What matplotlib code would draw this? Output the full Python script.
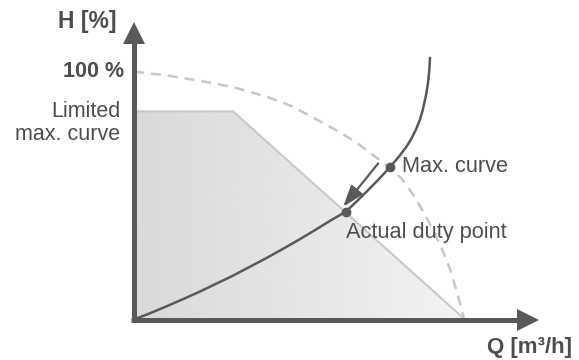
import matplotlib.pyplot as plt
import numpy as np
from matplotlib.patches import Polygon

plt.rcParams['font.family'] = ['Liberation Sans', 'DejaVu Sans']

# pump max curve (100 % speed)
max_q = [0, 10, 20, 30, 40, 48, 57.3, 62.5, 67.6, 73.6, 77.5, 81, 84.8, 88.3,
         91, 93.5, 95.6, 97.2, 98.5, 99.4, 100]
max_h = [100, 98.5, 96.3, 93.8, 90, 86, 79.3, 75.5, 71.2, 65.2, 61.3, 57, 50, 42,
         35, 28, 21, 14, 8, 3.5, 0]

# limited max. curve (flat top, then falling to zero)
lim_q = [0, 30, 100.3]
lim_h = [84, 84, 0]

# system curve through the origin
sys_q = [0, 5, 10, 15, 20, 25, 30, 35, 40, 45, 50, 55, 60, 64.2, 67.9, 71.9,
         74.8, 77.6, 80.2, 82.5, 84.0, 85.4, 86.6, 87.5, 88.5, 89.1, 89.5, 89.7]
sys_h = [0, 2.6, 5.4, 8.3, 11.3, 14.5, 17.7, 21.2, 24.7, 28.4, 32.2, 36.2, 40.3,
         43.5, 48.2, 53.5, 57.5, 61.5, 65.6, 69.6, 72.8, 76.5, 80.5, 84.5, 90.6,
         95.5, 100.7, 105.5]

duty_point = (64.2, 43.5)
max_point = (77.5, 61.6)

dark = '#595959'
light = '#c8c8c8'
txt = '#4d4d4d'

fig = plt.figure(figsize=(5.79, 3.6), dpi=100)
ax = fig.add_axes([0, 0, 1, 1])
ax.set_xlim(-40.6, 134.85)
ax.set_ylim(-16.34, 128.93)
ax.axis('off')

# gradient fill under the limited curve
poly = Polygon(list(zip(lim_q, lim_h)) + [(lim_q[-1], 0), (0, 0)], closed=True,
               facecolor='none', edgecolor='none')
ax.add_patch(poly)
grad = np.linspace(0.85, 0.95, 256).reshape(1, -1)
img = ax.imshow(grad, extent=[0, max(lim_q), 0, max(lim_h)], cmap='gray',
                vmin=0, vmax=1, aspect='auto', zorder=1)
img.set_clip_path(poly)
ax.plot(lim_q, lim_h, color=light, lw=1.5, zorder=2)

# max curve (dashed)
ax.plot(max_q, max_h, color=light, lw=1.8, dashes=(4, 2.8), zorder=2)

# system curve and points
ax.plot(sys_q, sys_h, color=dark, lw=1.8, zorder=3, solid_joinstyle='round')
ax.plot(*duty_point, 'o', color=dark, ms=6, zorder=4)
ax.plot(*max_point, 'o', color=dark, ms=6, zorder=4)

# arrow from max curve down to duty point
ax.annotate('', xy=(63.4, 45.5), xytext=(74, 63),
            arrowprops=dict(arrowstyle='-|>,head_length=1.3,head_width=0.45',
                            color=dark, lw=1.6, shrinkA=0, shrinkB=0), zorder=4)

# axes with arrow heads
q_end, h_end = 122.7, 119.7
ax.plot([-1, q_end - 5], [0, 0], color=dark, lw=3.6, solid_capstyle='butt', zorder=5)
ax.plot([0, 0], [-1.1, h_end - 7], color=dark, lw=3.6, solid_capstyle='butt', zorder=5)
ax.plot(q_end - 3.2, 0, marker='>', color=dark, ms=15.5, mew=0, zorder=5)
ax.plot(0, h_end - 4.2, marker='^', color=dark, ms=15.5, mew=0, zorder=5)

# labels
ax.text(-5.2, 120.2, 'H [%]', ha='right', va='center', fontsize=16.5, fontweight='bold', color=txt)
ax.text(-3.0, 100, '100 %', ha='right', va='center', fontsize=15.5, fontweight='bold', color=txt)
ax.text(-4.2, 79.3, 'Limited\nmax. curve', ha='right', va='center', fontsize=15.5,
        color=txt, linespacing=1.1, multialignment='right')
ax.text(81.1, max_point[1], 'Max. curve', ha='left', va='center', fontsize=15.7, color=txt)
ax.text(64.2, 35, 'Actual duty point', ha='left', va='center', fontsize=15.7, color=txt)
ax.text(132.7, -11.1, 'Q [m³/h]', ha='right', va='center', fontsize=16,
        fontweight='bold', color=txt)

fig.savefig('out.png', dpi=100)
